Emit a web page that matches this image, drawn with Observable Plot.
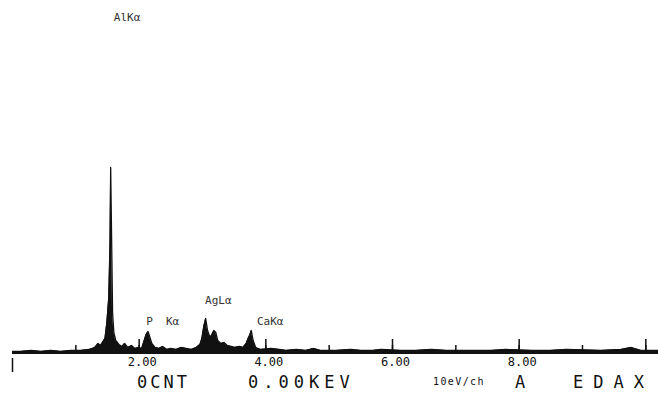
<!DOCTYPE html>
<html>
<head>
<meta charset="utf-8">
<script src="https://cdn.jsdelivr.net/npm/d3@7"></script>
<script src="https://cdn.jsdelivr.net/npm/@observablehq/plot@0.6"></script>
<style>
  html, body { margin: 0; padding: 0; background: #fff; }
  #wrap { position: relative; width: 658px; height: 394px; overflow: hidden; }
  #footer { position: relative; height: 22px; font-family: "DejaVu Sans Mono", monospace; color: #111; }
  #footer span { position: absolute; top: -1px; line-height: 22px; white-space: nowrap; }
</style>
</head>
<body>
<div id="wrap"></div>
<script>
// Spectrum: energy (keV) and counts (arbitrary units)
const energy = [0.00,0.13,0.29,0.45,0.60,0.76,0.92,1.08,1.21,1.30,1.35,1.39,1.43,1.46,1.49,1.52,1.54,1.55,1.57,1.58,1.60,1.63,1.68,1.73,1.77,1.82,1.88,1.93,1.98,2.04,2.07,2.11,2.14,2.17,2.20,2.25,2.31,2.37,2.44,2.50,2.58,2.66,2.74,2.82,2.90,2.96,2.99,3.02,3.05,3.08,3.12,3.15,3.18,3.21,3.24,3.29,3.34,3.39,3.45,3.51,3.58,3.64,3.69,3.72,3.75,3.77,3.80,3.84,3.92,4.08,4.21,4.32,4.48,4.63,4.76,4.87,5.11,5.34,5.50,5.69,5.82,6.13,6.37,6.61,6.85,7.24,7.56,7.79,8.19,8.50,8.74,9.29,9.61,9.77,9.93,10.21];
const counts = [1,1,2,1,2,1,2,2,3,5,9,7,11,14,30,55,110,185,90,40,20,12,8,6,9,5,7,4,5,4,10,18,21,15,9,5,4,6,3,4,3,5,4,3,5,8,14,26,34,22,15,18,22,20,12,9,10,7,6,5,6,5,9,14,18,22,12,5,3,4,3,2,3,2,4,2,2,3,2,2,3,2,2,3,2,2,2,3,2,2,3,2,3,5,2,2];

// Peak labels
const peakLabels = ["AlKα", "P  Kα", "AgLα", "CaKα"];
const peakEnergy = [1.60, 2.11, 3.04, 3.86];
const peakCount = [335, 31, 52, 31];

// Axis
const minorTicks = [1,2,3,4,5,6,7,8,9,10];
const majorTicks = [2,4,6,8,10];
const tickLabels = [2,4,6,8];

// Footer status line
const footerText = ["0CNT", "0.00KEV", "10eV/ch", "A", "EDAX"];

const spectrum = energy.map((e, i) => ({energy: e, count: counts[i]}));
const labels = peakLabels.map((t, i) => ({text: t, energy: peakEnergy[i], count: peakCount[i]}));

const chart = Plot.plot({
  width: 658,
  height: 372,
  marginLeft: 12,
  marginRight: 0,
  marginTop: 0,
  marginBottom: 20,
  style: {fontFamily: "DejaVu Sans Mono, monospace", background: "#fff", color: "#111"},
  x: {domain: [0, 10.2], label: null},
  y: {domain: [0, 352], axis: null},
  marks: [
    Plot.areaY(spectrum, {x: "energy", y: "count", fill: "#111", curve: "linear"}),
    Plot.line(spectrum, {x: "energy", y: "count", stroke: "#111", strokeWidth: 1.3, curve: "linear"}),
    Plot.ruleY([0], {stroke: "#111", strokeWidth: 3}),
    Plot.axisX(minorTicks, {tickSize: -7, tickFormat: () => "", label: null, strokeWidth: 1.5, stroke: "#111"}),
    Plot.axisX(majorTicks, {tickSize: -13, tickFormat: () => "", label: null, strokeWidth: 1.5, stroke: "#111"}),
    Plot.axisX([0], {tickSize: 15, dy: 6, tickFormat: () => "", label: null, strokeWidth: 1.5, stroke: "#111"}),
    Plot.axisX(tickLabels, {tickSize: 0, tickPadding: 5, tickFormat: d3.format(".2f"), label: null, fontSize: 12, dx: 3, style: "letter-spacing:3px"}),
    Plot.text(labels, {x: "energy", y: "count", text: "text", textAnchor: "start", fontSize: 11, fill: "#333"})
  ]
});
document.getElementById("wrap").appendChild(chart);

const footerLeft = [137, 248, 433, 515, 573];
const footerSize = [17, 17, 10, 17, 17];
const footerSpacing = [3, 5, 1.4, 0, 10];
const footer = document.createElement("div");
footer.id = "footer";
footerText.forEach((t, i) => {
  const s = document.createElement("span");
  s.textContent = t;
  s.style.left = footerLeft[i] + "px";
  s.style.fontSize = footerSize[i] + "px";
  s.style.letterSpacing = footerSpacing[i] + "px";
  footer.appendChild(s);
});
document.getElementById("wrap").appendChild(footer);
</script>
</body>
</html>
